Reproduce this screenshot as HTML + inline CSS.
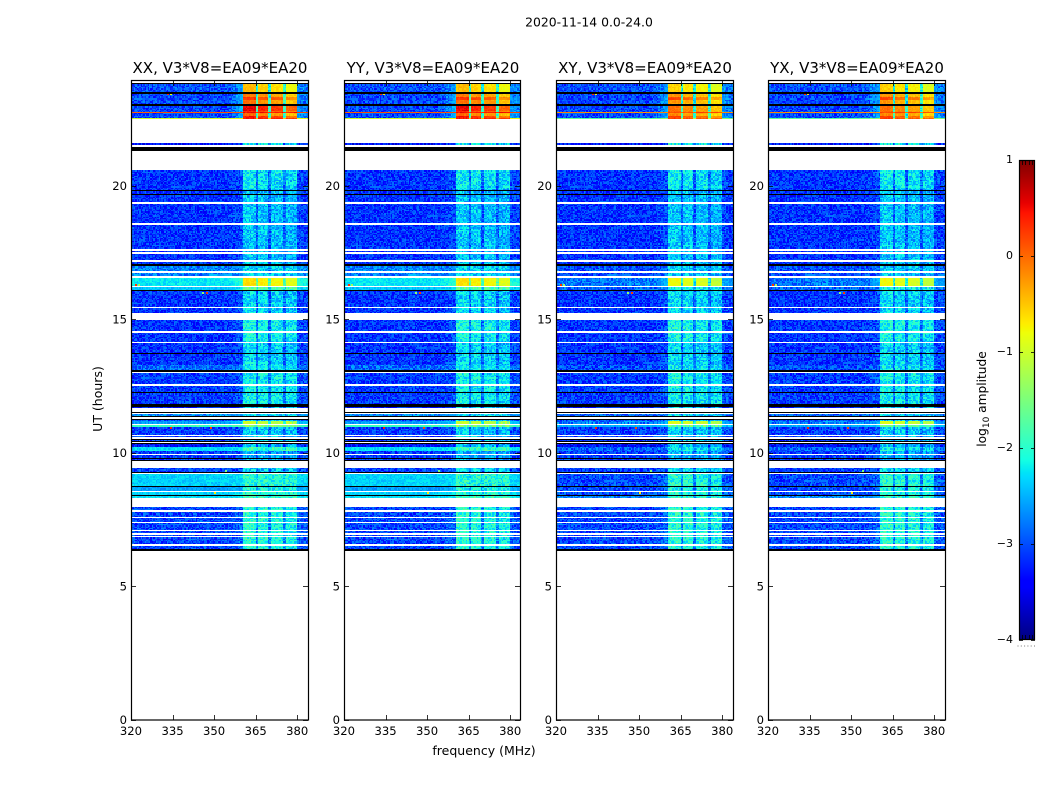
<!DOCTYPE html>
<html lang="en">
<head>
<meta charset="utf-8">
<title>2020-11-14 0.0-24.0</title>
<style>
html,body{margin:0;padding:0;background:#fff;}
#figure{position:relative;width:1050px;height:800px;overflow:hidden;background:#fff;}
canvas{position:absolute;image-rendering:pixelated;}
svg{position:absolute;left:0;top:0;}
text{font-family:"DejaVu Sans","Liberation Sans",sans-serif;fill:#000;}
</style>
</head>
<body>
<div id="figure">
<canvas id="heat-xx"></canvas>
<canvas id="heat-yy"></canvas>
<canvas id="heat-xy"></canvas>
<canvas id="heat-yx"></canvas>
<canvas id="cbar-canvas"></canvas>
<svg id="overlay" width="1050" height="800" xmlns="http://www.w3.org/2000/svg">
<text x="589" y="26.5" text-anchor="middle" font-size="12.4">2020-11-14 0.0-24.0</text>
<text x="484" y="755" text-anchor="middle" font-size="12.5">frequency (MHz)</text>
<text transform="translate(102,399) rotate(-90)" text-anchor="middle" font-size="12.5">UT (hours)</text>
<text transform="translate(986,399) rotate(-90)" text-anchor="middle" font-size="12.2">log<tspan font-size="9" dy="3">10</tspan><tspan dy="-3"> amplitude</tspan></text>
</svg>
</div>
<script>
// ---- chart data ----
const panelNames = ['XX', 'YY', 'XY', 'YX'];
const baselineLabel = 'V3*V8=EA09*EA20';
const xTickValues = [320, 335, 350, 365, 380];
const yTickValues = [0, 5, 10, 15, 20];
const cbarTickValues = [-4, -3, -2, -1, 0, 1];

// time bands (UT hours) and their log10 amplitude levels
const bandStart = [23.86,23.52,23.45,23.33,23.22,23.03,22.82,22.77,22.73,22.62,22.55,21.59,20.58,19.90,17.04,16.55,16.25,16.07,15.00,14.20,13.30,13.03,11.84,11.46,11.35,11.20,11.03,10.96,10.39,10.22,10.07,9.44,9.23,8.78,8.52,8.39,7.99];
const bandEnd   = [23.52,23.45,23.33,23.22,23.03,22.82,22.77,22.73,22.62,22.55,22.49,21.55,19.90,17.04,16.55,16.25,16.07,15.00,14.20,13.30,13.11,11.84,11.70,11.39,11.20,11.09,10.96,10.41,10.22,10.07,9.71,9.25,8.78,8.52,8.39,8.31,6.33];
const offParallel = [-3.0,-2.0,-3.05,-3.05,-3.05,-3.05,-3.05,0.1,-3.05,-3.05,-1.0,-3.3,-3.15,-3.15,-2.75,-2.25,-2.4,-3.15,-3.15,-3.15,-2.85,-3.1,-3.3,-2.7,-3.0,-2.6,-1.9,-3.1,-3.35,-2.3,-3.1,-3.1,-2.35,-2.6,-2.35,-2.3,-3.05];
const offCross    = [-3.0,-2.9,-3.05,-3.05,-3.05,-3.05,-3.05,-0.2,-3.05,-3.05,-1.7,-3.3,-3.15,-3.15,-3.0,-2.8,-2.9,-3.15,-3.15,-3.15,-3.0,-3.1,-3.3,-2.9,-3.0,-2.8,-2.5,-3.1,-3.35,-2.9,-3.1,-3.1,-3.05,-3.05,-3.0,-2.7,-3.05];
const inParallel  = [-0.45,-0.5,-0.1,0.3,-0.05,0.55,0.3,0.5,0.0,0.45,0.45,-2.1,-2.2,-2.4,-2.3,-0.65,-1.7,-2.3,-2.1,-2.3,-2.2,-2.15,-2.3,-2.3,-2.4,-1.0,-1.5,-2.35,-2.4,-1.9,-2.5,-2.3,-2.0,-2.1,-2.0,-1.9,-2.0];
const inCross     = [-0.55,-0.7,-0.25,0.15,-0.25,-0.05,0.0,0.2,-0.15,0.2,0.25,-2.1,-2.2,-2.4,-2.35,-0.8,-2.1,-2.3,-2.1,-2.3,-2.2,-2.15,-2.3,-2.3,-2.4,-0.9,-1.6,-2.35,-2.4,-2.2,-2.5,-2.3,-2.0,-2.1,-2.0,-1.95,-2.0];

// RFI weight per 0.5 MHz channel, 320.0..383.5 MHz
const channelWeight = [
 0,0,0,0,0,0,0,0,0,0, 0,0,0,0,0,0,0,0,0,0,
 0,0,0,0,0,0,0,0,0,0, 0,0,0,0,0,0,0,0,0,0,
 0,0,0,0,0,0,0,0,0,0, 0,0,0,0,0,0,0,0,0,0,
 0,0,0,0,0,0,0,0,0,0,
 .02,.02,.04,.04,.07,.07,.11,.11,.15,.15,
 .18,1,1,1,1,1,1,1,1,1,
 .35,.35,
 .95,.95,.95,.95,.95,.95,.95,
 .3,.3,
 .92,.92,.92,.92,.92,.92,.92,.92,.92,
 .35,.35,
 .85,.85,.85,.85,.85,.85,.85,.85,
 .13,.12,.11,.1,.1,.08,.08,.08];

// flagged (black) and empty (white) UT ranges
const flagStart = [23.84,23.50,23.05,21.44,19.84,19.70,17.06,16.12,13.73,13.11,12.27,11.84,11.54,11.39,11.29,10.52,10.45,10.36,9.83,9.75,9.29,8.78,8.43,6.40];
const flagEnd   = [23.80,23.46,23.01,21.29,19.80,19.66,17.02,16.07,13.71,13.03,12.23,11.72,11.50,11.35,11.25,10.48,10.41,10.32,9.79,9.71,9.25,8.75,8.39,6.33];
const gapStart = [19.38,18.60,17.62,17.51,17.23,16.82,16.63,16.24,15.47,15.25,14.55,14.14,13.03,12.57,11.70,11.50,11.33,11.09,10.69,10.58,10.41,9.96,9.71,8.56,8.31,7.87,7.62,7.42,7.13,6.99,6.89,6.59];
const gapEnd   = [19.33,18.54,17.58,17.47,17.17,16.75,16.55,16.21,15.43,14.98,14.51,14.10,13.00,12.51,11.54,11.46,11.27,11.03,10.64,10.54,10.39,9.93,9.44,8.52,7.99,7.79,7.57,7.36,7.08,6.93,6.84,6.52];

// isolated interference spots
const spikeUT    = [23.49,23.49,16.31,16.31,16.03,16.03,10.99,10.99,9.35,8.52];
const spikeFreq  = [333.0,334.0,321.5,322.5,345.5,347.0,334.0,348.5,354.0,350.0];
const spikeLevel = [0.3,-0.8,0.3,-1.3,-1.4,0.3,0.4,0.2,-1.5,-0.7];

// hand-written speckle offsets that give the cells their noisy texture
const grain = [.12,-.22,.31,-.05,.18,-.34,.07,.26,-.15,-.02,.22,-.28,.1,.34,-.19,.03,-.31,.16,.24,-.09,-.25,.29,.01,-.13,.2,-.36,.14,.05,-.21,.27,-.07,.11,-.3,.33,-.17,.08,.21,-.26,-.01,.17,-.12,.3,-.33,.04,.25,-.2,.13,-.06,.28,-.24,.09,-.16,.35,-.29,.02,.19,-.1,.23,-.35,.15,-.04];

// ---- scales ----
const plotTop = 81, plotBottom = 720, plotWidth = 177;
const xMin = 320, xMax = 383.9, yMin = 0, yMax = 23.93;
const cbarMin = -4, cbarMax = 1;
function xScale(f){ return (f - xMin) / (xMax - xMin) * plotWidth; }
function yScale(ut){ return plotBottom - (ut - yMin) / (yMax - yMin) * (plotBottom - plotTop); }

function jet(t){
  t = Math.max(0, Math.min(1, t));
  function ramp(pts){
    for (let i = 1; i < pts.length; i++) {
      if (t <= pts[i][0]) {
        const a = pts[i-1], b = pts[i];
        return a[1] + (b[1] - a[1]) * (t - a[0]) / (b[0] - a[0]);
      }
    }
    return pts[pts.length-1][1];
  }
  const r = ramp([[0,0],[.35,0],[.66,1],[.89,1],[1,.5]]);
  const g = ramp([[0,0],[.125,0],[.375,1],[.64,1],[.91,0],[1,0]]);
  const b = ramp([[0,.5],[.11,1],[.34,1],[.65,0],[1,0]]);
  return 'rgb(' + Math.round(r*255) + ',' + Math.round(g*255) + ',' + Math.round(b*255) + ')';
}
function levelColor(v){ return jet((v - cbarMin) / (cbarMax - cbarMin)); }

// ---- heatmaps ----
const panelIds = ['heat-xx', 'heat-yy', 'heat-xy', 'heat-yx'];
const panelLeft = [131, 344, 556, 768];
const panelWidth = [177, 176, 177, 177];
const channelStep = 0.5, timeStep = 0.05;

function drawHeatmap(p){
  const c = document.getElementById(panelIds[p]);
  c.width = panelWidth[p];
  c.height = plotBottom - plotTop;
  c.style.left = panelLeft[p] + 'px';
  c.style.top = plotTop + 'px';
  const ctx = c.getContext('2d');
  const isCross = p >= 2;
  const toY = ut => Math.round(yScale(ut) - plotTop);
  for (let b = 0; b < bandStart.length; b++) {
    const off = isCross ? offCross[b] : offParallel[b];
    const on = isCross ? inCross[b] : inParallel[b];
    for (let ut = bandStart[b]; ut > bandEnd[b] + 1e-6; ut -= timeStep) {
      const utLow = Math.max(ut - timeStep, bandEnd[b]);
      const y0 = toY(ut), y1 = toY(utLow);
      if (y1 <= y0) continue;
      const rowKey = Math.round(ut * 20);
      let ch = 0;
      for (let f = xMin; f < xMax; f += channelStep, ch++) {
        const w = channelWeight[Math.min(channelWeight.length - 1, ch)];
        const g = grain[(ch * 7 + rowKey * 13 + p * 5 + (ch * rowKey) % 11) % grain.length];
        const base = off + (on - off) * w;
        const noise = base > -1.2 ? 0.3 : (base > -2.7 && w < 0.3 ? 0.45 : 1);
        const x0 = Math.round(xScale(f)), x1 = Math.round(xScale(f + channelStep));
        ctx.fillStyle = levelColor(base + g * noise);
        ctx.fillRect(x0, y0, x1 - x0, y1 - y0);
      }
    }
  }
  for (let i = 0; i < spikeUT.length; i++) {
    ctx.fillStyle = levelColor(spikeLevel[i]);
    ctx.fillRect(Math.round(xScale(spikeFreq[i])), toY(spikeUT[i]), 2, 2);
  }
  ctx.fillStyle = '#fff';
  for (let i = 0; i < gapStart.length; i++) {
    ctx.fillRect(0, toY(gapStart[i]), plotWidth, Math.max(1, toY(gapEnd[i]) - toY(gapStart[i])));
  }
  ctx.fillStyle = '#000';
  for (let i = 0; i < flagStart.length; i++) {
    ctx.fillRect(0, toY(flagStart[i]), plotWidth, Math.max(1, toY(flagEnd[i]) - toY(flagStart[i])));
  }
}
panelIds.forEach((id, p) => drawHeatmap(p));

// ---- svg helpers ----
const svg = document.getElementById('overlay');
const NS = 'http://www.w3.org/2000/svg';
function makeLine(x1, y1, x2, y2, width){
  const el = document.createElementNS(NS, 'line');
  el.setAttribute('x1', x1);
  el.setAttribute('y1', y1);
  el.setAttribute('x2', x2);
  el.setAttribute('y2', y2);
  el.setAttribute('stroke', '#000');
  el.setAttribute('stroke-width', width);
  svg.appendChild(el);
  return el;
}
function makeText(x, y, str, size, anchor){
  const el = document.createElementNS(NS, 'text');
  el.setAttribute('x', x);
  el.setAttribute('y', y);
  el.setAttribute('font-size', size);
  el.setAttribute('text-anchor', anchor);
  el.textContent = str;
  svg.appendChild(el);
  return el;
}

// ---- axes ----
const tickLen = 5, tickFont = 11.6;
panelNames.forEach((name, p) => {
  const left = panelLeft[p];
  const right = left + panelWidth[p];
  const key = name.toLowerCase();

  const frame = document.createElementNS(NS, 'rect');
  frame.setAttribute('x', left + 0.5);
  frame.setAttribute('y', plotTop - 0.5);
  frame.setAttribute('width', panelWidth[p]);
  frame.setAttribute('height', plotBottom - plotTop + 0.5);
  frame.setAttribute('fill', 'none');
  frame.setAttribute('stroke', '#000');
  frame.setAttribute('stroke-width', 1.2);
  
  
  svg.appendChild(frame);

  const title = makeText(left + plotWidth / 2 + 0.5, 73, name + ', ' + baselineLabel, 15, 'middle');
  
  

  xTickValues.forEach(v => {
    const x = left + Math.round(xScale(v)) + 0.5;
    const bottomTick = makeLine(x, plotBottom, x, plotBottom - tickLen, 0.8);
    
    
    const topTick = makeLine(x, plotTop, x, plotTop + tickLen, 0.8);
    
    
    const label = makeText(left + xScale(v), 735, String(v), tickFont, 'middle');
    
    
  });

  yTickValues.forEach(v => {
    const y = Math.round(yScale(v)) + 0.5;
    const leftTick = makeLine(left, y, left + tickLen, y, 0.8);
    
    
    const rightTick = makeLine(right, y, right - tickLen, y, 0.8);
    
    
    const label = makeText(left - 4, yScale(v) + 4, String(v), tickFont, 'end');
    
    
  });
});

// ---- colorbar ----
const cbarLeft = 1019, cbarWidth = 16, cbarTop = 160, cbarBottom = 640;
function cbarScale(v){ return cbarBottom - (v - cbarMin) / (cbarMax - cbarMin) * (cbarBottom - cbarTop); }
(function(){
  const c = document.getElementById('cbar-canvas');
  c.width = cbarWidth;
  c.height = cbarBottom - cbarTop;
  c.style.left = cbarLeft + 'px';
  c.style.top = cbarTop + 'px';
  const ctx = c.getContext('2d');
  for (let i = 0; i < c.height; i++) {
    const v = cbarMax - (i + 0.5) / c.height * (cbarMax - cbarMin);
    ctx.fillStyle = levelColor(v);
    ctx.fillRect(0, i, cbarWidth, 1);
  }
})();

const cbarFrame = document.createElementNS(NS, 'rect');
cbarFrame.setAttribute('x', cbarLeft + 0.5);
cbarFrame.setAttribute('y', cbarTop + 0.5);
cbarFrame.setAttribute('width', cbarWidth - 1);
cbarFrame.setAttribute('height', cbarBottom - cbarTop - 1);
cbarFrame.setAttribute('fill', 'none');
cbarFrame.setAttribute('stroke', '#000');
cbarFrame.setAttribute('stroke-width', 1.2);


svg.appendChild(cbarFrame);

cbarTickValues.forEach(v => {
  const y = Math.round(cbarScale(v)) + 0.5;
  const leftTick = makeLine(cbarLeft, y, cbarLeft + 4, y, 0.8);
  
  
  const rightTick = makeLine(cbarLeft + cbarWidth, y, cbarLeft + cbarWidth - 4, y, 0.8);
  
  
  const label = makeText(1013, cbarScale(v) + 3, String(v).replace('-', '\u2212'), 11, 'end');
  
  
});

for (let i = 1; i <= 4; i++) {
  const x = cbarLeft + Math.round(i * cbarWidth / 5) + 0.5;
  const topTick = makeLine(x, cbarTop, x, cbarTop + 5, 0.8);
  
  
  const bottomTick = makeLine(x, cbarBottom, x, cbarBottom - 5, 0.8);
  
  
}
for (let i = 0; i < 6; i++) {
  const dot = document.createElementNS(NS, 'rect');
  dot.setAttribute('x', 1017.5 + i * 3.3);
  dot.setAttribute('y', 645.5);
  dot.setAttribute('width', 1);
  dot.setAttribute('height', 1);
  dot.setAttribute('fill', '#777');
  
  
  svg.appendChild(dot);
}
</script>
</body>
</html>
